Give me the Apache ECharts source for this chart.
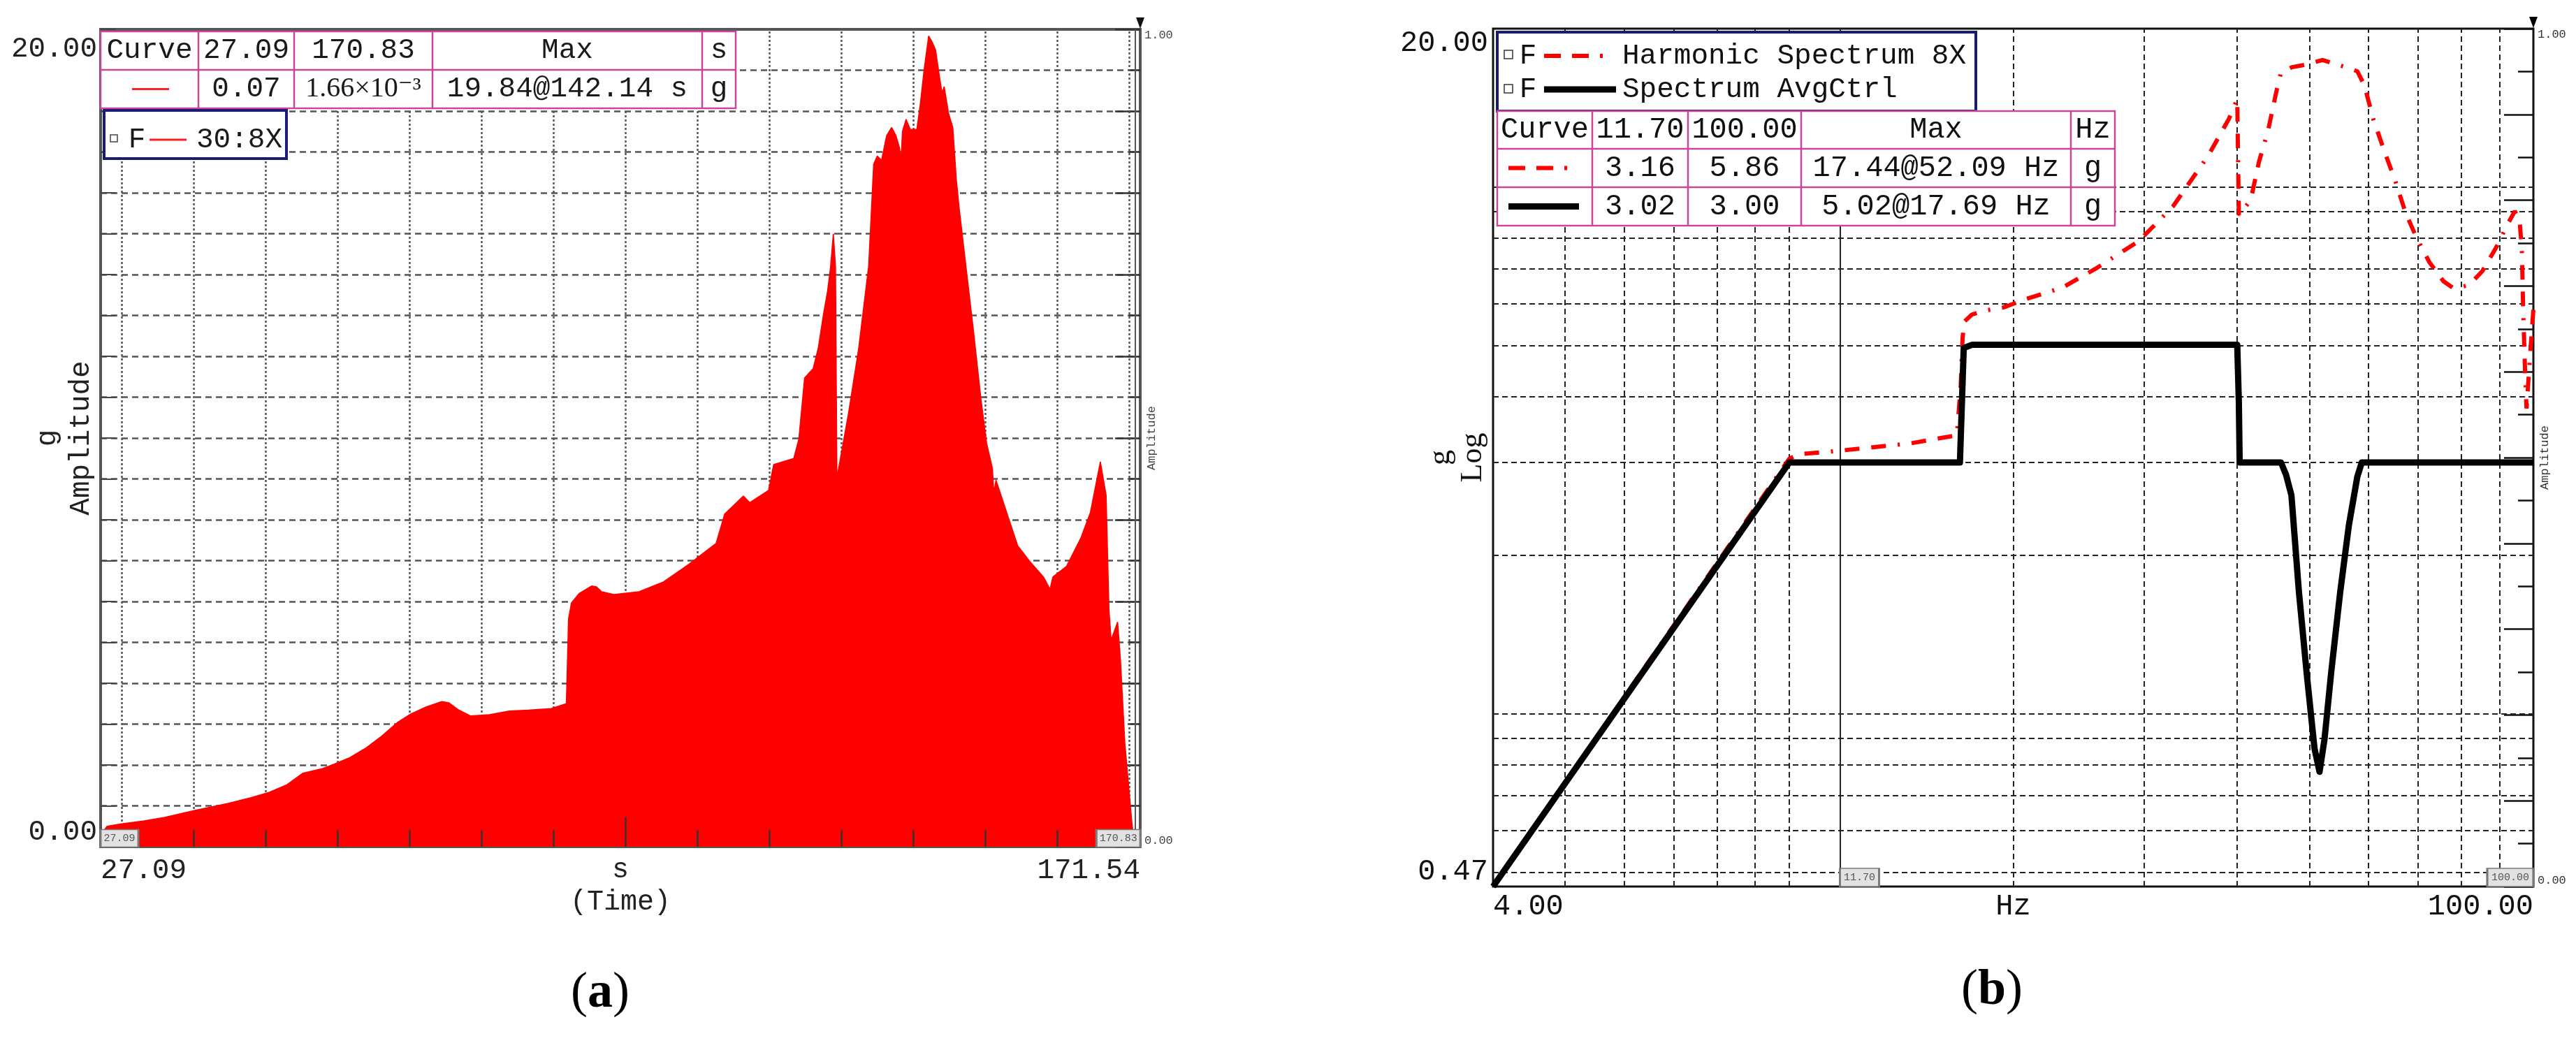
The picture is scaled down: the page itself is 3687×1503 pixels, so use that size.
<!DOCTYPE html>
<html><head><meta charset="utf-8">
<script src="https://cdn.jsdelivr.net/npm/echarts@6/dist/echarts.min.js"></script>
<style>html,body{margin:0;padding:0;background:#fff}#c{width:3687px;height:1503px}</style>
</head><body><div id="c"></div>
<script>
// ---------- Panel (a): time history, 30:8X ----------
const timeS = [27.09,28.0,30.0,33.0,36.0,40.2,44.8,48.0,50.5,53.0,55.2,57.9,59.5,61.6,64.0,66.1,68.4,70.2,72.3,74.5,75.5,76.8,78.5,81.1,83.9,86.5,89.7,91.8,92.1,92.5,93.6,95.3,96.0,96.7,98.4,101.9,105.3,108.8,112.6,113.8,116.4,117.3,119.9,120.6,123.4,124.1,124.9,126.1,126.8,127.5,128.1,128.5,128.9,129.2,129.4,131.0,132.4,133.8,134.5,135.0,135.6,136.3,137.0,137.6,138.1,138.3,138.5,139.0,139.6,140.5,141.0,141.5,142.14,142.6,143.1,143.6,144.0,144.3,144.9,145.5,146.0,146.4,147.4,148.4,149.4,150.2,151.0,151.2,151.5,153.0,154.5,156.1,158.1,159.0,159.4,161.3,163.3,164.6,166.0,166.8,167.2,167.5,168.2,168.4,168.8,169.4,170.4,170.83];
const ampG  = [0.30,0.50,0.56,0.63,0.72,0.89,1.06,1.20,1.33,1.52,1.80,1.91,2.02,2.17,2.42,2.70,3.05,3.25,3.42,3.55,3.52,3.35,3.20,3.23,3.32,3.34,3.38,3.50,5.57,5.96,6.20,6.38,6.36,6.24,6.17,6.24,6.48,6.91,7.42,8.14,8.58,8.42,8.72,9.35,9.50,9.97,11.47,11.70,12.20,13.00,13.60,14.17,15.00,14.20,9.03,10.60,12.17,14.20,16.70,16.90,16.80,17.40,17.60,17.40,17.10,16.80,17.50,17.80,17.55,17.55,18.20,19.00,19.84,19.70,19.50,18.90,18.45,18.60,17.95,17.60,16.30,15.60,14.09,12.58,10.97,9.87,9.26,8.67,8.97,8.17,7.37,7.00,6.60,6.30,6.60,6.86,7.56,8.17,9.42,8.60,5.80,5.06,5.40,5.50,4.56,2.55,0.55,0.0017];
const timeRange = [27.09, 171.54];
const ampRangeA = [0, 20];
const timeGrid = [30,40,50,60,70,80,90,100,110,120,130,140,150,160,170];
const timeTicks = [40,50,60,70,80,90,100,110,120,130,140,150,160];
const cursorsA = [27.09, 170.83];
const tableA = [['Curve','27.09','170.83','Max','s'],['','0.07','1.66×10⁻³','19.84@142.14 s','g']];
const legendA = ['30:8X'];

// ---------- Panel (b): spectra ----------
const freqHarm = [4.0,10.0,10.3,11.7,14.5,15.8,16.8,17.0,17.1,17.2,17.6,18.3,19.4,20.8,23.3,25.8,29.5,32.8,36.6,39.0,40.0,40.2,41.7,42.8,44.0,45.2,45.8,47.4,49.6,52.09,55.2,58.0,59.3,60.9,63.0,65.2,67.3,69.6,72.5,75.7,78.2,82.0,85.4,89.2,92.3,94.4,95.8,96.5,96.9,97.5,97.9,99.0,100.0];
const ampHarm  = [0.47,3.05,3.11,3.16,3.26,3.33,3.38,4.20,5.18,5.56,5.73,5.83,5.91,6.13,6.45,7.00,7.90,9.20,11.50,13.50,14.70,8.85,9.45,11.20,12.80,15.30,16.50,16.90,17.10,17.44,17.00,16.60,15.60,13.50,11.75,10.30,8.96,8.04,7.20,6.63,6.42,6.52,6.93,7.70,8.50,9.00,8.70,7.60,5.80,4.40,3.80,4.80,5.86];
const freqCtrl = [4.0,10.0,16.96,17.16,17.6,40.0,40.2,40.3,45.8,46.5,47.3,48.4,49.6,50.8,51.6,52.4,53.5,55.0,56.5,58.0,58.8,100.0];
const ampCtrl  = [0.47,3.00,3.00,4.95,5.02,5.02,3.90,3.00,3.00,2.85,2.60,1.71,1.19,0.86,0.776,0.895,1.20,1.70,2.28,2.82,3.00,3.00];
const freqRange = [4, 100];
const ampRangeB = [0.47, 20];
const freqGrid = [5,6,7,8,9,10,20,30,40,50,60,70,80,90];
const ampGridB = [0.5,0.6,0.7,0.8,0.9,1,2,3,4,5,6,7,8,9,10];
const cursorsB = [11.70, 100.00];
const tableB = [['Curve','11.70','100.00','Max','Hz'],['','3.16','5.86','17.44@52.09 Hz','g'],['','3.02','3.00','5.02@17.69 Hz','g']];
const legendB = ['Harmonic Spectrum 8X','Spectrum AvgCtrl'];

// ---------- helpers ----------
const MONO = "'Liberation Mono', 'DejaVu Sans Mono', monospace";
const SERIF = "'Liberation Serif', 'DejaVu Serif', serif";
const pairs = (xs, ys) => xs.map((x, i) => [x, ys[i]]);
const ends = (lo, hi, loT, hiT) => v => {
  const tol = 1e-4 * Math.abs(hi - lo);
  if (Math.abs(v - lo) <= tol) return loT;
  if (Math.abs(v - hi) <= tol) return hiT;
  return '';
};
function txt(x, y, text, font, align, color) {
  return { type: 'text', x, y, z: 101, silent: true,
    style: { text, font, fill: color || '#111', align: align || 'center', textAlign: align || 'center',
             verticalAlign: 'middle', textVerticalAlign: 'middle' } };
}
function rect(x, y, w, h, stroke, lw, fill) {
  return { type: 'rect', z: 100, silent: true, shape: { x, y, width: w, height: h },
    style: { fill: fill || '#fff', stroke, lineWidth: lw } };
}
function ln(x1, y1, x2, y2, stroke, lw, dash) {
  return { type: 'line', z: 102, silent: true, shape: { x1, y1, x2, y2 },
    style: { stroke, lineWidth: lw, lineDash: dash || null } };
}
function table(xs, ys, rows, color, font, tcolor) {
  const g = [rect(xs[0], ys[0], xs[xs.length-1]-xs[0], ys[ys.length-1]-ys[0], color, 2.5)];
  for (let i = 1; i < xs.length - 1; i++) g.push(ln(xs[i], ys[0], xs[i], ys[ys.length-1], color, 2.5));
  for (let j = 1; j < ys.length - 1; j++) g.push(ln(xs[0], ys[j], xs[xs.length-1], ys[j], color, 2.5));
  rows.forEach((r, j) => r.forEach((t, i) => {
    if (!t) return;
    const f = t.indexOf('⁻') >= 0 ? "40px " + SERIF : font;
    g.push(txt((xs[i]+xs[i+1])/2, (ys[j]+ys[j+1])/2, t, f, 'center', tcolor));
  }));
  return g;
}

const markerLabel = (txtv, size, off) => ({
  symbol: 'rect', symbolSize: size, symbolOffset: off,
  itemStyle: { color: '#e2e2e2', borderColor: '#7a7a7a', borderWidth: 2 },
  label: { show: true, position: 'inside', formatter: txtv, fontFamily: MONO, fontSize: 15, color: '#555' }
});

// ---------- graphics: tables, legends, panel captions ----------
const graphics = [];
// panel (a) table + legend
graphics.push(...table([144,284,421,619,1005,1053],[45,100,155], tableA, '#c8479b', "41px " + MONO, '#1a1a1a'));
graphics.push(ln(189,127.5,242,127.5,'#ff2020',3));
graphics.push(rect(149,158,261,69,'#1c1c78',4));
graphics.push(rect(158,193,10,10,'#444',1.5));
graphics.push(txt(196,200,'F',"41px " + MONO,'center','#1a1a1a'));
graphics.push(ln(214,200,267,200,'#ff2020',3));
graphics.push(txt(281,200,legendA[0],"41px " + MONO,'left','#1a1a1a'));
// panel (b) legend + table
graphics.push(rect(2143,46,685,113,'#1b1b6b',4));
graphics.push(rect(2153,72,12,12,'#333',1.5));
graphics.push(rect(2153,121,12,12,'#333',1.5));
graphics.push(txt(2187,80,'F',"41px " + MONO,'center'));
graphics.push(txt(2187,128,'F',"41px " + MONO,'center'));
graphics.push(ln(2210,80,2300,80,'#ff0000',6,[24,16,24,16,4,30]));
graphics.push(ln(2210,128,2313,128,'#000',9));
graphics.push(txt(2322,80,legendB[0],"41px " + MONO,'left'));
graphics.push(txt(2322,128,legendB[1],"41px " + MONO,'left'));
graphics.push(...table([2143,2279,2416,2578,2964,3027],[159,213,268,323], tableB, '#c8479b', "42px " + MONO, '#111'));
graphics.push(ln(2159,240.5,2246,240.5,'#ff0000',6,[24,16,24,16,4,30]));
graphics.push(ln(2159,295.5,2260,295.5,'#000',9));
// captions
const capRich = { n: { fontFamily: SERIF, fontSize: 72, fill: '#000', color: '#000' },
                  b: { fontFamily: SERIF, fontSize: 72, fontWeight: 'bold', fill: '#000', color: '#000' } };
graphics.push({ type: 'text', x: 859, y: 1422, z: 101, style: { text: '{n|(}{b|a}{n|)}', rich: capRich, align: 'center', textAlign: 'center', verticalAlign: 'middle', textVerticalAlign: 'middle' } });
graphics.push({ type: 'text', x: 2851, y: 1418, z: 101, style: { text: '{n|(}{b|b}{n|)}', rich: capRich, align: 'center', textAlign: 'center', verticalAlign: 'middle', textVerticalAlign: 'middle' } });

// ---------- option ----------
const labelBase = (size, color) => ({ fontFamily: MONO, fontSize: size, color });
const option = {
  animation: false,
  backgroundColor: '#ffffff',
  grid: [
    { left: 144, top: 42, width: 1488, height: 1170, show: true, borderColor: '#555', borderWidth: 4, backgroundColor: 'transparent', outerBoundsMode: 'none', containLabel: false },
    { left: 2137, top: 41, width: 1489, height: 1228, show: true, borderColor: '#111', borderWidth: 3, backgroundColor: 'transparent', outerBoundsMode: 'none', containLabel: false }
  ],
  xAxis: [
    { gridIndex: 0, type: 'value', min: timeRange[0], max: timeRange[1],
      axisLine: { show: false }, axisTick: { show: false }, splitLine: { show: false },
      axisLabel: Object.assign(labelBase(41, '#222'), { showMinLabel: true, showMaxLabel: true, margin: 14,
        alignMinLabel: 'left', alignMaxLabel: 'right',
        formatter: ends(timeRange[0], timeRange[1], '27.09', '171.54') }),
      name: 's\n(Time)', nameLocation: 'middle', nameGap: 10, nameMoveOverlap: false,
      nameTextStyle: { fontFamily: MONO, fontSize: 40, lineHeight: 46, color: '#222' } },
    { gridIndex: 1, type: 'log', logBase: 10, min: freqRange[0], max: freqRange[1],
      axisLine: { show: false }, axisTick: { show: false }, splitLine: { show: false }, minorSplitLine: { show: false },
      axisLabel: Object.assign(labelBase(42, '#111'), { showMinLabel: true, showMaxLabel: true, margin: 8,
        alignMinLabel: 'left', alignMaxLabel: 'right',
        formatter: ends(freqRange[0], freqRange[1], '4.00', '100.00') }),
      name: 'Hz', nameLocation: 'middle', nameGap: 8, nameMoveOverlap: false,
      nameTextStyle: { fontFamily: MONO, fontSize: 42, color: '#111' } }
  ],
  yAxis: [
    { gridIndex: 0, type: 'value', min: ampRangeA[0], max: ampRangeA[1], interval: 1,
      axisLine: { show: false },
      axisTick: { show: true, inside: true, length: 22, lineStyle: { color: '#444', width: 2 } },
      splitLine: { show: true, lineStyle: { type: [9, 6], color: '#555', width: 2.5 } },
      axisLabel: Object.assign(labelBase(41, '#222'), { showMinLabel: true, showMaxLabel: true, margin: 5,
        padding: [8, 0, 0, 0],
        verticalAlignMinLabel: 'bottom', verticalAlignMaxLabel: 'top',
        formatter: ends(ampRangeA[0], ampRangeA[1], '0.00', '20.00') }),
      name: 'g\nAmplitude', nameLocation: 'middle', nameRotate: 90, nameGap: 4, nameMoveOverlap: false,
      nameTextStyle: { fontFamily: MONO, fontSize: 41, lineHeight: 48, color: '#222' } },
    { gridIndex: 1, type: 'log', logBase: 10, min: ampRangeB[0], max: ampRangeB[1],
      axisLine: { show: false }, axisTick: { show: false }, splitLine: { show: false }, minorSplitLine: { show: false },
      axisLabel: Object.assign(labelBase(42, '#111'), { showMinLabel: true, showMaxLabel: true, margin: 7,
        verticalAlignMinLabel: 'bottom', verticalAlignMaxLabel: 'top',
        formatter: ends(ampRangeB[0], ampRangeB[1], '0.47', '20.00') }),
      name: 'g\nLog', nameLocation: 'middle', nameRotate: 90, nameGap: 6, nameMoveOverlap: false,
      nameTextStyle: { fontFamily: SERIF, fontSize: 44, lineHeight: 46, color: '#111' } },
    { gridIndex: 0, type: 'value', position: 'right', min: 0, max: 1, interval: 0.1,
      axisLine: { show: false },
      axisTick: { show: true, inside: true, length: 36, lineStyle: { color: '#333', width: 2.5 } },
      minorTick: { show: true, splitNumber: 2, length: 16, lineStyle: { color: '#333', width: 2.5 } },
      splitLine: { show: false },
      axisLabel: Object.assign(labelBase(17, '#444'), { showMinLabel: true, showMaxLabel: true, margin: 6,
        verticalAlignMinLabel: 'bottom', verticalAlignMaxLabel: 'top',
        formatter: ends(0, 1, '0.00', '1.00') }),
      name: 'Amplitude', nameLocation: 'middle', nameRotate: 90, nameGap: 8, nameMoveOverlap: false,
      nameTextStyle: { fontFamily: MONO, fontSize: 17, color: '#444' } },
    { gridIndex: 1, type: 'value', position: 'right', min: 0, max: 1, interval: 0.1,
      axisLine: { show: false },
      axisTick: { show: true, inside: true, length: 42, lineStyle: { color: '#111', width: 2.5 } },
      minorTick: { show: true, splitNumber: 2, length: 22, lineStyle: { color: '#111', width: 2.5 } },
      splitLine: { show: false },
      axisLabel: Object.assign(labelBase(17, '#333'), { showMinLabel: true, showMaxLabel: true, margin: 6,
        verticalAlignMinLabel: 'bottom', verticalAlignMaxLabel: 'top',
        formatter: ends(0, 1, '0.00', '1.00') }),
      name: 'Amplitude', nameLocation: 'middle', nameRotate: 90, nameGap: 8, nameMoveOverlap: false,
      nameTextStyle: { fontFamily: MONO, fontSize: 17, color: '#333' } }
  ],
  series: [
    // panel (a) vertical grid lines
    { type: 'line', xAxisIndex: 0, yAxisIndex: 0, data: [], silent: true,
      markLine: { silent: true, z: 1, symbol: ['none', 'none'], label: { show: false },
        lineStyle: { type: [3, 3], color: '#555', width: 2.5 },
        data: timeGrid.map(t => ({ xAxis: t })) } },
    // panel (a) signal
    { type: 'line', name: '30:8X', xAxisIndex: 0, yAxisIndex: 0, data: pairs(timeS, ampG),
      showSymbol: false, symbol: 'none', z: 3,
      lineStyle: { color: '#ff0000', width: 1.5 }, areaStyle: { color: '#ff0000', opacity: 1 },
      markPoint: { z: 6, data: [
        Object.assign({ coord: [cursorsA[0], ampRangeA[0]] }, markerLabel('27.09', [54, 25], [27, -12])),
        Object.assign({ coord: [cursorsA[1], ampRangeA[0]] }, markerLabel('170.83', [63, 25], [-24, -12])),
        { coord: [timeRange[1], ampRangeA[1]], symbol: 'triangle', symbolRotate: 180, symbolSize: [12, 16], symbolOffset: [0, -9], itemStyle: { color: '#111' }, label: { show: false } }
      ] } },
    // panel (a) bottom ticks + end cursor
    { type: 'line', xAxisIndex: 0, yAxisIndex: 0, data: [], silent: true,
      markLine: { silent: true, z: 4, symbol: ['none', 'none'], label: { show: false },
        lineStyle: { type: 'solid', color: '#333', width: 2.5 },
        data: timeTicks.map(t => [{ coord: [t, 0] }, { coord: [t, t === 100 ? 0.72 : 0.4] }])
          .concat([{ xAxis: cursorsA[1], lineStyle: { color: '#555', width: 2 } }]) } },
    // panel (b) grid lines + cursor
    { type: 'line', xAxisIndex: 1, yAxisIndex: 1, data: [], silent: true,
      markLine: { silent: true, z: 1, symbol: ['none', 'none'], label: { show: false },
        lineStyle: { type: [8, 5], color: '#222', width: 2 },
        data: freqGrid.map(f => ({ xAxis: f }))
          .concat(ampGridB.map(a => ({ yAxis: a })))
          .concat([{ xAxis: cursorsB[0], lineStyle: { type: 'solid', color: '#222', width: 2 } }]) } },
    // harmonic spectrum 8X
    { type: 'line', name: legendB[0], xAxisIndex: 1, yAxisIndex: 1, data: pairs(freqHarm, ampHarm),
      showSymbol: false, symbol: 'none', z: 3,
      lineStyle: { color: '#ff0000', width: 6, type: [21, 17, 3, 17, 21, 17] } },
    // spectrum avg ctrl
    { type: 'line', name: legendB[1], xAxisIndex: 1, yAxisIndex: 1, data: pairs(freqCtrl, ampCtrl),
      showSymbol: false, symbol: 'none', z: 4,
      lineStyle: { color: '#000', width: 9, join: 'round' },
      markPoint: { z: 6, data: [
        Object.assign({ coord: [cursorsB[0], ampRangeB[0]] }, markerLabel('11.70', [56, 26], [28, -13])),
        Object.assign({ coord: [cursorsB[1], ampRangeB[0]] }, markerLabel('100.00', [66, 26], [-33, -13])),
        { coord: [freqRange[1], ampRangeB[1]], symbol: 'triangle', symbolRotate: 180, symbolSize: [12, 16], symbolOffset: [0, -9], itemStyle: { color: '#000' }, label: { show: false } }
      ] } }
  ],
  graphic: { elements: graphics }
};

const chart = echarts.init(document.getElementById('c'), null, { renderer: 'canvas', width: 3687, height: 1503 });
chart.setOption(option);
</script>
</body></html>
